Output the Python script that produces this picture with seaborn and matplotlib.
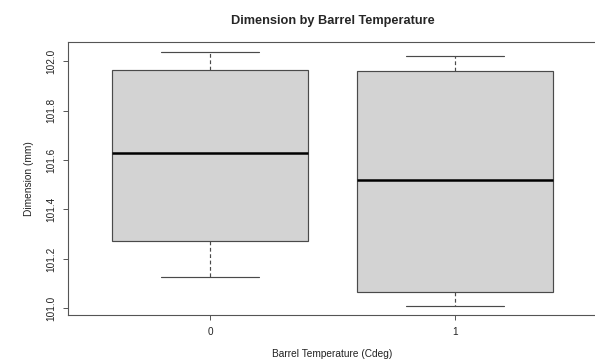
import matplotlib
matplotlib.use("Agg")
import matplotlib.pyplot as plt
import pandas as pd
import seaborn as sns

# Five-number summaries per barrel temperature setting
temp_0 = [101.128, 101.273, 101.628, 101.962, 102.036]
temp_1 = [101.011, 101.065, 101.520, 101.960, 102.020]
categories = ["0", "1"]
y_ticks = [101.0, 101.2, 101.4, 101.6, 101.8, 102.0]

df = pd.DataFrame({
    "Barrel Temperature (Cdeg)": [categories[0]] * len(temp_0) + [categories[1]] * len(temp_1),
    "Dimension (mm)": temp_0 + temp_1,
})

sns.set_theme(style="white")
plt.rcParams["font.family"] = ["Liberation Sans", "DejaVu Sans"]

line_col = "#4a4a4a"
fig = plt.figure(figsize=(5.95, 3.63), dpi=100)
ax = fig.add_axes([68 / 595, (363 - 315.3) / 363, (597 - 68) / 595, (315.3 - 42) / 363])

sns.boxplot(
    data=df, x="Barrel Temperature (Cdeg)", y="Dimension (mm)", ax=ax,
    color="#D3D3D3", saturation=1, width=0.8, whis=1.5,
    linecolor=line_col, linewidth=0.85,
    medianprops=dict(color="black", linewidth=1.8),
    whiskerprops=dict(linestyle=(0, (3.2, 2.2))),
    capwidths=0.4,
)

ax.set_xlim(-0.58, 1.58)
ax.set_ylim(100.972, 102.077)
ax.set_yticks(y_ticks)
ax.set_yticklabels([f"{v:.1f}" for v in y_ticks], rotation=90, va="center")

for side in ["top", "right", "bottom", "left"]:
    ax.spines[side].set_visible(True)
    ax.spines[side].set_color("#555555")
    ax.spines[side].set_linewidth(0.8)

ax.tick_params(axis="both", which="both", direction="out", length=3.8, width=0.7,
               color="#555555", labelsize=7.2, labelcolor="#222222", pad=4.5)
ax.tick_params(axis="x", bottom=True)
ax.tick_params(axis="y", left=True)

ax.set_xlabel("Barrel Temperature (Cdeg)", fontsize=7.3, color="#222222", labelpad=8.5)
ax.set_ylabel("Dimension (mm)", fontsize=7.3, color="#222222", labelpad=9)
ax.set_title("Dimension by Barrel Temperature", fontsize=9.2, fontweight="bold", pad=13)

fig.savefig("out.png", dpi=100)
